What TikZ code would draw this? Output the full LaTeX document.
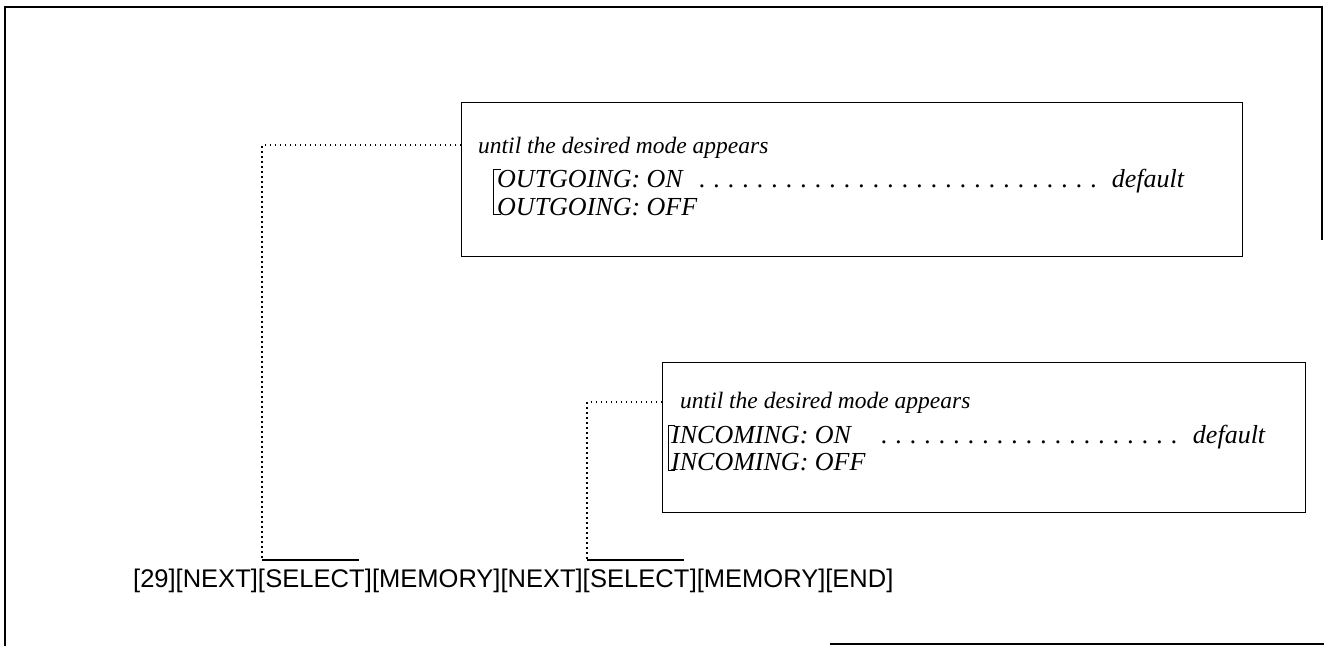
\documentclass[tikz,border=0pt]{standalone}
\usepackage{fontspec}
\setmainfont{Liberation Serif}
\newfontfamily\keyfont{Liberation Sans}
\newcommand{\leaderrow}[3]{\hbox to #1{#2\cleaders\hbox to 14.5pt{\hss.\hss}\hfill\,#3}}
\begin{document}
\begin{tikzpicture}[x=1pt,y=-1pt,
  frame/.style={line width=1.3pt},
  boxrect/.style={draw, line width=1.1pt, inner sep=0, anchor=north west},
  conn/.style={line width=1.5pt, dash pattern=on 1.5pt off 3.5pt},
  brk/.style={line width=1pt},
  note/.style={inner sep=0, anchor=base west, font=\fontsize{23.5}{27}\selectfont\itshape},
  opt/.style={inner sep=0, anchor=base west, font=\fontsize{26}{30}\selectfont\itshape},
  key/.style={inner sep=0, anchor=base west, font=\keyfont\fontsize{25.5}{30}\selectfont},
  bar/.style={line width=1.1pt}]
\useasboundingbox (0,0) rectangle (1324,646);
% outer frame
\draw[frame] (5,646) -- (5,7) -- (1322,7) -- (1322,240);
\draw[frame] (830,644) -- (1324,644);
% box 1
\node[boxrect, minimum width=781pt, minimum height=154pt] (box1) at (461,102) {};
\node[note] (t1) at (478,153) {until the desired mode appears};
\node[opt] (o1) at (497,187) {\leaderrow{687pt}{OUTGOING:\ ON\ }{default}};
\node[opt] (o2) at (497,215) {OUTGOING:\ OFF};
\draw[brk] (501,169) -- (493,169) -- (493,214) -- (501,214);
% box 2
\node[boxrect, minimum width=643pt, minimum height=150pt] (box2) at (662,362) {};
\node[note] (t2) at (680,408) {until the desired mode appears};
\node[opt] (i1) at (671,443) {\leaderrow{594pt}{INCOMING:\ ON\ \ \ }{default}};
\node[opt] (i2) at (671,470) {INCOMING:\ OFF};
\draw[brk] (675,425) -- (668,425) -- (668,470) -- (675,470);
% key sequence
\node[key] (k1) at (133,587) {[29][NEXT][};
\node[key] (sel1) at (k1.base east) {SELECT};
\node[key] (k2) at (sel1.base east) {][MEMORY][NEXT][};
\node[key] (sel2) at (k2.base east) {SELECT};
\node[key] (k3) at (sel2.base east) {][MEMORY][END]};
\coordinate (ov1a) at ([shift={(-3pt,9pt)}]sel1.north west);
\coordinate (ov1b) at ([shift={(-6pt,9pt)}]sel1.north east);
\coordinate (ov2a) at ([shift={(-3pt,9pt)}]sel2.north west);
\coordinate (ov2b) at ([shift={(-6pt,9pt)}]sel2.north east);
\draw[bar] (ov1a) -- (ov1b);
\draw[bar] (ov2a) -- (ov2b);
% connectors
\coordinate (j1) at (ov1a |- 0,145);
\coordinate (j2) at (ov2a |- 0,402);
\draw[conn] (j1 -| box1.west) -- (j1) -- (ov1a);
\draw[conn] (j2 -| box2.west) -- (j2) -- (ov2a);
\end{tikzpicture}
\end{document}
